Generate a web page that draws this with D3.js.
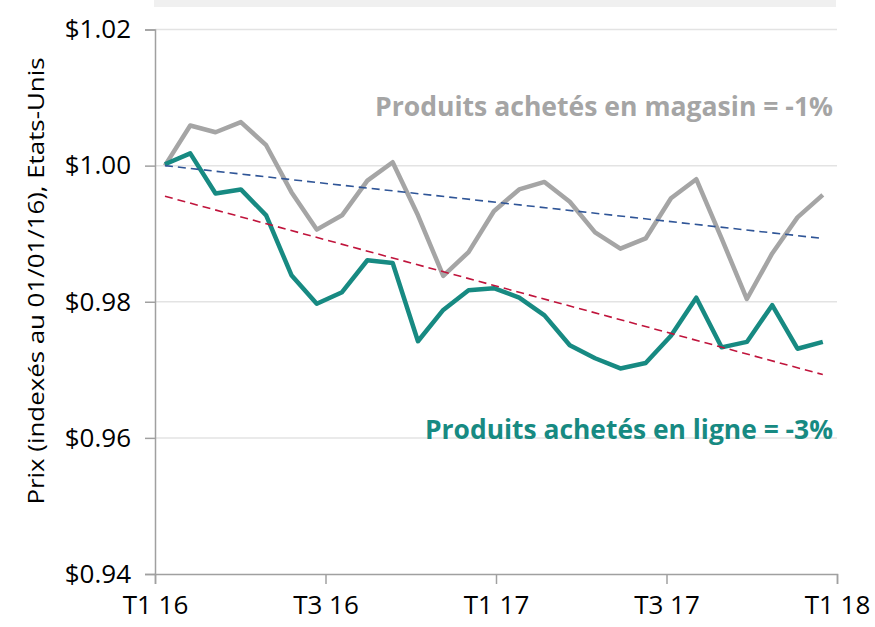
<!DOCTYPE html>
<html>
<head>
  <meta charset="UTF-8">
  <title>Prix en ligne vs magasin</title>
  <style>
    body { margin: 0; background: #fff; }
    svg { display: block; font-family: "Open Sans", sans-serif; }
  </style>
</head>
<body>
<svg id="chart" width="875" height="627"></svg>
<script src="https://d3js.org/d3.v7.min.js"></script>
<script>

// Values (index price, base 01/01/16)
var enMagasin = [1.0000, 1.0059, 1.0049, 1.0064, 1.0030, 0.9961, 0.9906, 0.9927, 0.9978,
                 1.0005, 0.9927, 0.9838, 0.9873, 0.9933, 0.9965, 0.9976, 0.9947, 0.9902,
                 0.9878, 0.9893, 0.9952, 0.9980, 0.9893, 0.9804, 0.9871, 0.9924, 0.9957];
var enLigne = [1.0002, 1.0018, 0.9959, 0.9965, 0.9927, 0.9839, 0.9797, 0.9814, 0.9861,
               0.9857, 0.9742, 0.9788, 0.9817, 0.9820, 0.9806, 0.9780, 0.9736, 0.9717,
               0.9702, 0.9710, 0.9750, 0.9806, 0.9733, 0.9741, 0.9795, 0.9731, 0.9741];
// trend lines, first and last period
var tendanceMagasin = [1.0000, 0.9893];
var tendanceLigne = [0.9955, 0.9693];

var xTicks = [0, 6, 12, 18, 24];   // months since Jan 2016
var xLabels = ["T1 16", "T3 16", "T1 17", "T3 17", "T1 18"];
var yTicks = [0.94, 0.96, 0.98, 1.00, 1.02];

var svg = d3.select("#chart");

var x = d3.scaleLinear().domain([0, 24]).range([155, 837]);
// the 27 periods sit between the first and last month positions
var xp = d3.scaleLinear().domain([0, enLigne.length - 1]).range([x(0.35), x(23.5)]);
var y = d3.scaleLinear().domain([0.94, 1.02]).range([574, 29.5]);

// top grey box (cut off title)
svg.append("rect")
  .attr("x", 154).attr("y", 0)
  .attr("width", 682).attr("height", 7)
  .attr("fill", "#f0f0f0");

// gridlines
svg.append("g")
  .selectAll("line")
  .data(yTicks.filter(function(d) { return d > 0.94; }))
  .enter().append("line")
  .attr("x1", x(0)).attr("x2", x(24))
  .attr("y1", function(d) { return y(d); })
  .attr("y2", function(d) { return y(d); })
  .attr("stroke", "#e3e3e3")
  .attr("stroke-width", 1.5);

// y axis
var yAxis = svg.append("g")
  .attr("transform", "translate(" + x(0) + ",0)")
  .call(d3.axisLeft(y).tickValues(yTicks).tickSize(10).tickPadding(14)
    .tickFormat(function(d) { return "$" + d.toFixed(2); }));
yAxis.select(".domain").attr("stroke", "#a0a0a0").attr("stroke-width", 1.5);
yAxis.selectAll(".tick line").attr("stroke", "#a0a0a0").attr("stroke-width", 1.5);
yAxis.selectAll(".tick text")
  .attr("font-family", "Open Sans").attr("font-size", 26).attr("fill", "#000");

// x axis
var xAxis = svg.append("g")
  .attr("transform", "translate(0," + y(0.94) + ")")
  .call(d3.axisBottom(x).tickValues(xTicks).tickSize(10).tickPadding(12)
    .tickFormat(function(d, i) { return xLabels[i]; }));
xAxis.select(".domain").attr("stroke", "#a0a0a0").attr("stroke-width", 1.5);
xAxis.selectAll(".tick line").attr("stroke", "#a0a0a0").attr("stroke-width", 1.5);
xAxis.selectAll(".tick text")
  .attr("font-family", "Open Sans").attr("font-size", 26).attr("fill", "#000");

// y axis title
svg.append("text")
  .attr("transform", "translate(44,281) rotate(-90)")
  .attr("text-anchor", "middle")
  .attr("font-size", 22)
  .attr("textLength", 447)
  .attr("lengthAdjust", "spacingAndGlyphs")
  .attr("fill", "#000")
  .text("Prix (indexés au 01/01/16), Etats-Unis");

// series
var line = d3.line()
  .x(function(d, i) { return xp(i); })
  .y(function(d) { return y(d); });

svg.append("path")
  .datum(enMagasin)
  .attr("d", line)
  .attr("fill", "none")
  .attr("stroke", "#a5a5a5")
  .attr("stroke-width", 4.5)
  .attr("stroke-linejoin", "round");

svg.append("path")
  .datum(enLigne)
  .attr("d", line)
  .attr("fill", "none")
  .attr("stroke", "#178a82")
  .attr("stroke-width", 4.5)
  .attr("stroke-linejoin", "round");

// trend lines
var trend = d3.line()
  .x(function(d, i) { return xp(i * (enLigne.length - 1)); })
  .y(function(d) { return y(d); });

svg.append("path")
  .datum(tendanceMagasin)
  .attr("d", trend)
  .attr("fill", "none")
  .attr("stroke", "#2f5597")
  .attr("stroke-width", 1.6)
  .attr("stroke-dasharray", "8,5");

svg.append("path")
  .datum(tendanceLigne)
  .attr("d", trend)
  .attr("fill", "none")
  .attr("stroke", "#c0143c")
  .attr("stroke-width", 1.6)
  .attr("stroke-dasharray", "8,5");

// labels
svg.append("text")
  .attr("x", 375).attr("y", 116)
  .attr("font-size", 26).attr("font-weight", "bold")
  .attr("textLength", 458).attr("lengthAdjust", "spacingAndGlyphs")
  .attr("fill", "#a5a5a5")
  .text("Produits achetés en magasin = -1%");

svg.append("text")
  .attr("x", 425).attr("y", 439)
  .attr("font-size", 26).attr("font-weight", "bold")
  .attr("textLength", 408).attr("lengthAdjust", "spacingAndGlyphs")
  .attr("fill", "#178a82")
  .text("Produits achetés en ligne = -3%");

</script>
</body>
</html>
